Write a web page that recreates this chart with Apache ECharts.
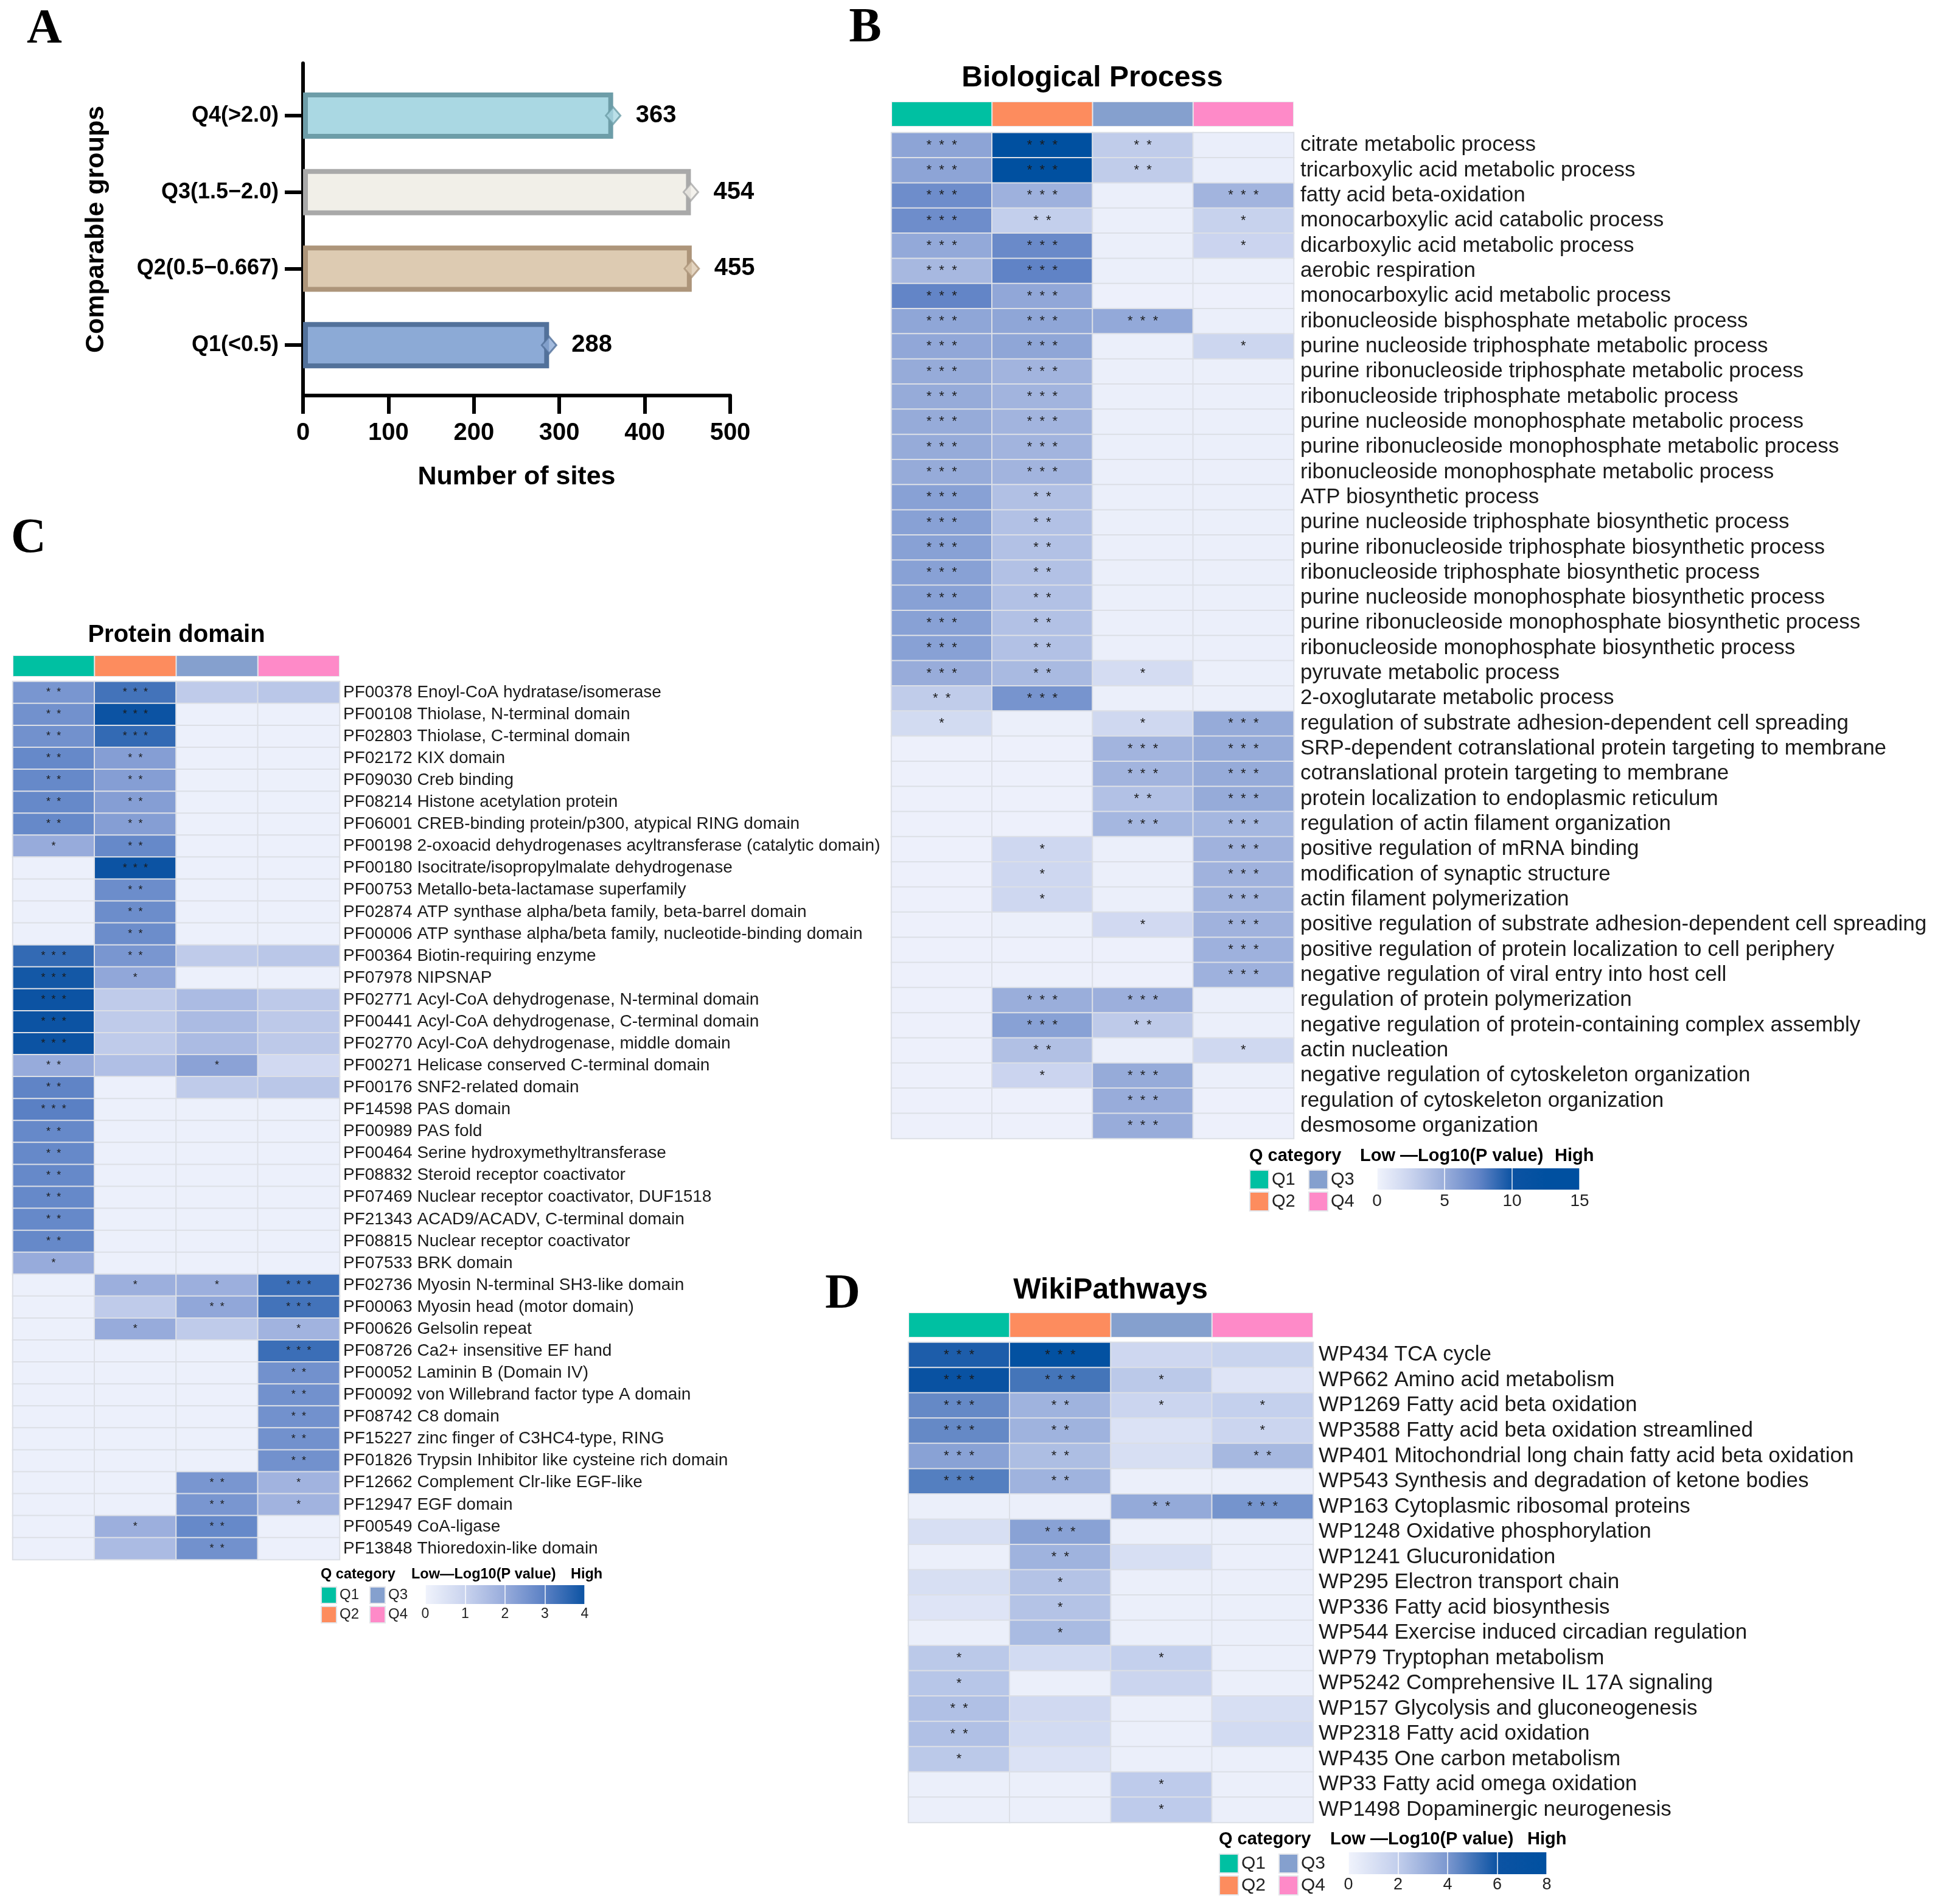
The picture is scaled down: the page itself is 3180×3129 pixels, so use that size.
<!DOCTYPE html>
<html><head><meta charset="utf-8">
<script src="https://cdn.jsdelivr.net/npm/echarts@6/dist/echarts.min.js"></script>
<style>html,body{margin:0;padding:0;background:#fff}#c{width:3180px;height:3129px}</style>
</head><body><div id="c"></div>
<script>
// ---------------- DATA ----------------
const groupLabels = ['Q1(<0.5)', 'Q2(0.5\u22120.667)', 'Q3(1.5\u22122.0)', 'Q4(>2.0)'];
const siteCounts = [288, 455, 454, 363];

const qNames = ['Q1', 'Q2', 'Q3', 'Q4'];

const bpTerms = [
 'citrate metabolic process','tricarboxylic acid metabolic process','fatty acid beta-oxidation',
 'monocarboxylic acid catabolic process','dicarboxylic acid metabolic process','aerobic respiration',
 'monocarboxylic acid metabolic process','ribonucleoside bisphosphate metabolic process',
 'purine nucleoside triphosphate metabolic process','purine ribonucleoside triphosphate metabolic process',
 'ribonucleoside triphosphate metabolic process','purine nucleoside monophosphate metabolic process',
 'purine ribonucleoside monophosphate metabolic process','ribonucleoside monophosphate metabolic process',
 'ATP biosynthetic process','purine nucleoside triphosphate biosynthetic process',
 'purine ribonucleoside triphosphate biosynthetic process','ribonucleoside triphosphate biosynthetic process',
 'purine nucleoside monophosphate biosynthetic process','purine ribonucleoside monophosphate biosynthetic process',
 'ribonucleoside monophosphate biosynthetic process','pyruvate metabolic process','2-oxoglutarate metabolic process',
 'regulation of substrate adhesion-dependent cell spreading','SRP-dependent cotranslational protein targeting to membrane',
 'cotranslational protein targeting to membrane','protein localization to endoplasmic reticulum',
 'regulation of actin filament organization','positive regulation of mRNA binding','modification of synaptic structure',
 'actin filament polymerization','positive regulation of substrate adhesion-dependent cell spreading',
 'positive regulation of protein localization to cell periphery','negative regulation of viral entry into host cell',
 'regulation of protein polymerization','negative regulation of protein-containing complex assembly','actin nucleation',
 'negative regulation of cytoskeleton organization','regulation of cytoskeleton organization','desmosome organization'
];
const bpLogP = [
 [5.6,14.5,3.0,0.4],[5.6,14.5,3.0,0.4],[7.0,4.8,0.3,4.6],[7.0,2.8,0.3,2.6],[5.3,7.2,0.3,2.4],
 [4.3,7.6,0.3,0.3],[7.5,5.4,0.2,0.2],[5.5,5.5,5.3,0.3],[5.4,5.5,0.3,2.3],[5.2,4.6,0.3,0.3],
 [5.2,4.6,0.3,0.3],[5.2,4.6,0.3,0.3],[5.2,4.6,0.3,0.3],[5.2,4.6,0.3,0.3],[5.8,3.8,0.3,0.3],
 [5.8,3.7,0.3,0.3],[5.8,3.7,0.3,0.3],[5.8,3.7,0.3,0.3],[5.8,3.7,0.3,0.3],[5.8,3.7,0.3,0.3],
 [5.8,3.7,0.3,0.3],[5.1,4.2,1.8,0.3],[3.0,6.6,0.3,0.3],[1.9,0.3,2.1,5.2],[0.2,0.2,4.6,5.2],
 [0.2,0.2,4.6,5.2],[0.2,0.2,3.7,5.2],[0.2,0.2,4.4,4.4],[0.2,2.2,0.3,4.7],[0.2,2.2,0.3,4.7],
 [0.2,2.2,0.3,4.6],[0.2,0.3,2.0,4.7],[0.2,0.2,0.2,4.8],[0.2,0.2,0.2,4.8],[0.2,5.0,4.9,0.3],
 [0.2,5.8,3.1,0.3],[0.2,3.8,0.3,2.1],[0.2,2.4,5.2,0.3],[0.2,0.2,5.1,0.2],[0.2,0.2,5.1,0.2]
];
const bpSig = [
 [3,3,2,0],[3,3,2,0],[3,3,0,3],[3,2,0,1],[3,3,0,1],[3,3,0,0],[3,3,0,0],[3,3,3,0],[3,3,0,1],
 [3,3,0,0],[3,3,0,0],[3,3,0,0],[3,3,0,0],[3,3,0,0],
 [3,2,0,0],[3,2,0,0],[3,2,0,0],[3,2,0,0],[3,2,0,0],[3,2,0,0],[3,2,0,0],
 [3,2,1,0],[2,3,0,0],[1,0,1,3],[0,0,3,3],[0,0,3,3],[0,0,2,3],[0,0,3,3],
 [0,1,0,3],[0,1,0,3],[0,1,0,3],[0,0,1,3],[0,0,0,3],[0,0,0,3],
 [0,3,3,0],[0,3,2,0],[0,2,0,1],[0,1,3,0],[0,0,3,0],[0,0,3,0]
];
const bpScaleTicks = [0, 15, 5];

const pdTerms = [
 'PF00378 Enoyl-CoA hydratase/isomerase','PF00108 Thiolase, N-terminal domain','PF02803 Thiolase, C-terminal domain',
 'PF02172 KIX domain','PF09030 Creb binding','PF08214 Histone acetylation protein',
 'PF06001 CREB-binding protein/p300, atypical RING domain','PF00198 2-oxoacid dehydrogenases acyltransferase (catalytic domain)',
 'PF00180 Isocitrate/isopropylmalate dehydrogenase','PF00753 Metallo-beta-lactamase superfamily',
 'PF02874 ATP synthase alpha/beta family, beta-barrel domain','PF00006 ATP synthase alpha/beta family, nucleotide-binding domain',
 'PF00364 Biotin-requiring enzyme','PF07978 NIPSNAP','PF02771 Acyl-CoA dehydrogenase, N-terminal domain',
 'PF00441 Acyl-CoA dehydrogenase, C-terminal domain','PF02770 Acyl-CoA dehydrogenase, middle domain',
 'PF00271 Helicase conserved C-terminal domain','PF00176 SNF2-related domain','PF14598 PAS domain','PF00989 PAS fold',
 'PF00464 Serine hydroxymethyltransferase','PF08832 Steroid receptor coactivator','PF07469 Nuclear receptor coactivator, DUF1518',
 'PF21343 ACAD9/ACADV, C-terminal domain','PF08815 Nuclear receptor coactivator','PF07533 BRK domain',
 'PF02736 Myosin N-terminal SH3-like domain','PF00063 Myosin head (motor domain)','PF00626 Gelsolin repeat',
 'PF08726 Ca2+ insensitive EF hand','PF00052 Laminin B (Domain IV)','PF00092 von Willebrand factor type A domain',
 'PF08742 C8 domain','PF15227 zinc finger of C3HC4-type, RING','PF01826 Trypsin Inhibitor like cysteine rich domain',
 'PF12662 Complement Clr-like EGF-like','PF12947 EGF domain','PF00549 CoA-ligase','PF13848 Thioredoxin-like domain'
];
const pdLogP = [
 [2.5,3.3,1.2,1.3],[2.6,4.0,0.1,0.1],[2.6,3.5,0.1,0.1],[2.8,2.3,0.1,0.1],[2.8,2.3,0.1,0.1],
 [2.8,2.3,0.1,0.1],[2.8,2.3,0.1,0.1],[2.0,2.8,0.1,0.1],[0.1,4.0,0.1,0.1],[0.1,2.7,0.1,0.1],
 [0.1,2.7,0.1,0.1],[0.1,2.7,0.1,0.1],[3.5,2.5,1.2,1.3],[3.9,2.1,0.1,0.1],[4.0,1.2,1.6,1.25],
 [4.0,1.2,1.6,1.25],[4.0,1.2,1.6,1.25],[2.0,1.5,2.2,0.8],[2.9,0.1,1.2,1.3],[3.0,0.1,0.1,0.1],
 [2.8,0.1,0.1,0.1],[2.8,0.1,0.1,0.1],[2.8,0.1,0.1,0.1],[2.8,0.1,0.1,0.1],[2.8,0.1,0.1,0.1],
 [2.8,0.1,0.1,0.1],[2.0,0.1,0.1,0.1],[0.1,1.9,1.9,3.4],[0.1,1.2,2.1,3.3],[0.1,2.0,1.2,1.8],
 [0.1,0.1,0.1,3.4],[0.1,0.1,0.1,2.6],[0.1,0.1,0.1,2.6],[0.1,0.1,0.1,2.6],[0.1,0.1,0.1,2.6],
 [0.1,0.1,0.1,2.6],[0.1,0.1,2.5,1.8],[0.1,0.1,2.5,1.8],[0.1,1.9,2.8,0.1],[0.1,1.6,2.6,0.1]
];
const pdSig = [
 [2,3,0,0],[2,3,0,0],[2,3,0,0],[2,2,0,0],[2,2,0,0],[2,2,0,0],[2,2,0,0],[1,2,0,0],
 [0,3,0,0],[0,2,0,0],[0,2,0,0],[0,2,0,0],[3,2,0,0],[3,1,0,0],
 [3,0,0,0],[3,0,0,0],[3,0,0,0],[2,0,1,0],[2,0,0,0],[3,0,0,0],
 [2,0,0,0],[2,0,0,0],[2,0,0,0],[2,0,0,0],[2,0,0,0],[2,0,0,0],[1,0,0,0],
 [0,1,1,3],[0,0,2,3],[0,1,0,1],[0,0,0,3],
 [0,0,0,2],[0,0,0,2],[0,0,0,2],[0,0,0,2],[0,0,0,2],
 [0,0,2,1],[0,0,2,1],[0,1,2,0],[0,0,2,0]
];
const pdScaleTicks = [0, 4, 1];

const wpTerms = [
 'WP434 TCA cycle','WP662 Amino acid metabolism','WP1269 Fatty acid beta oxidation',
 'WP3588 Fatty acid beta oxidation streamlined','WP401 Mitochondrial long chain fatty acid beta oxidation',
 'WP543 Synthesis and degradation of ketone bodies','WP163 Cytoplasmic ribosomal proteins',
 'WP1248 Oxidative phosphorylation','WP1241 Glucuronidation','WP295 Electron transport chain',
 'WP336 Fatty acid biosynthesis','WP544 Exercise induced circadian regulation','WP79 Tryptophan metabolism',
 'WP5242 Comprehensive IL 17A signaling','WP157 Glycolysis and gluconeogenesis','WP2318 Fatty acid oxidation',
 'WP435 One carbon metabolism','WP33 Fatty acid omega oxidation','WP1498 Dopaminergic neurogenesis'
];
const wpLogP = [
 [5.7,7.5,1.5,1.7],[6.5,5.0,2.2,0.8],[4.4,3.0,1.6,1.9],[4.4,3.0,0.9,1.6],[3.6,2.6,1.1,2.8],
 [4.7,3.0,0.2,0.2],[0.2,0.2,3.3,4.1],[1.1,3.6,0.2,0.2],[0.2,3.0,1.1,0.2],[1.1,2.4,0.2,0.2],
 [0.8,2.4,0.2,0.2],[0.2,2.7,0.2,0.2],[2.2,1.3,1.9,0.2],[2.3,0.2,1.6,0.2],[2.5,1.4,0.2,1.1],
 [2.5,1.3,0.2,1.3],[2.2,0.9,0.2,0.2],[0.2,0.2,2.1,0.2],[0.2,0.2,2.1,0.2]
];
const wpSig = [
 [3,3,0,0],[3,3,1,0],[3,2,1,1],[3,2,0,1],[3,2,0,2],[3,2,0,0],[0,0,2,3],[0,3,0,0],[0,2,0,0],
 [0,1,0,0],[0,1,0,0],[0,1,0,0],[1,0,1,0],[1,0,0,0],[2,0,0,0],[2,0,0,0],[1,0,0,0],[0,0,1,0],[0,0,1,0]
];
const wpScaleTicks = [0, 8, 2];

// ---------------- STYLES ----------------
const FONT = 'Liberation Sans';
function hasFont(f) {
  const ctx = document.createElement('canvas').getContext('2d');
  const s = 'Q2(0.5-0.667) abcdefghij';
  ctx.font = '40px monospace'; const a = ctx.measureText(s).width;
  ctx.font = '40px "' + f + '", monospace'; const b = ctx.measureText(s).width;
  return Math.abs(a - b) > 0.5;
}
const catFont = hasFont('Liberation Sans Narrow') ? { family: 'Liberation Sans Narrow', size: 42 } : { family: FONT, size: 36 };

const barFills = ['#8caad6', '#ddcbb2', '#f1efe8', '#aad8e3'];
const barEdges = ['#52719a', '#ad957a', '#a9a9a9', '#6d9da8'];
const qColors = ['#00c0a2', '#fd8c5e', '#85a0ce', '#fe8ac8'];
const bpColors = ['#f0f3fc','#c9d3ee','#9aaedb','#6385c7','#0c53a3','#0050a0','#0050a0'];
const pdColors = ['#f0f3fc','#c9d3ee','#97abdb','#5a80c4','#0c53a3'];
const wpColors = ['#f0f3fc','#c2ceec','#7b97cf','#0c53a3','#0050a0'];

const chart = echarts.init(document.getElementById('c'));
const grids = [], xAxes = [], yAxes = [], series = [], visualMaps = [], legends = [], graphics = [];

function addGrid(g, x, y) {
  grids.push(Object.assign({ containLabel: false, outerBoundsMode: 'none' }, g));
  const i = grids.length - 1;
  xAxes.push(Object.assign({ gridIndex: i }, x));
  yAxes.push(Object.assign({ gridIndex: i }, y));
  return i;
}
function txt(x, y, text, size, opts) {
  const st = Object.assign({ text, fontSize: size, fontFamily: FONT, fontWeight: 'bold', fill: '#000',
    align: 'left', textAlign: 'left', verticalAlign: 'middle', textVerticalAlign: 'middle' }, opts || {});
  if (st.align === 'center') st.textAlign = 'center';
  graphics.push({ type: 'text', x, y, silent: true, style: st });
}
function stars(n) { return n ? new Array(n).fill('*').join('  ') : ''; }

// ---------------- PANEL A ----------------
const axBlack = { color: '#000', width: 6 };
const gA0 = addGrid({ left: 498, top: 104, width: 702, height: 546 },
  { type: 'value', min: 0, max: 500, interval: 100,
    axisLine: { show: true, onZero: false, lineStyle: axBlack },
    axisTick: { show: true, length: 30, lineStyle: axBlack },
    axisLabel: { fontSize: 40, fontWeight: 'bold', color: '#000', margin: 42, fontFamily: FONT },
    splitLine: { show: false },
    name: 'Number of sites', nameLocation: 'middle', nameGap: 113, nameMoveOverlap: false,
    nameTextStyle: { fontSize: 43, fontWeight: 'bold', color: '#000', fontFamily: FONT } },
  { type: 'value', min: 0, max: 1,
    axisLine: { show: true, onZero: false, lineStyle: axBlack },
    axisTick: { show: false }, axisLabel: { show: false }, splitLine: { show: false },
    name: 'Comparable groups', nameLocation: 'middle', nameRotate: 90, nameGap: 318, nameMoveOverlap: false,
    nameTextStyle: { fontSize: 43, fontWeight: 'bold', color: '#000', fontFamily: FONT } });
const gA1 = addGrid({ left: 498, top: 127, width: 702, height: 503 },
  { type: 'value', min: 0, max: 500, show: false },
  { type: 'category', data: groupLabels,
    axisLine: { show: false },
    axisTick: { show: true, alignWithLabel: true, length: 30, lineStyle: axBlack },
    axisLabel: { fontSize: catFont.size, fontWeight: 'bold', color: '#000', margin: 40, fontFamily: catFont.family, interval: 0 } });
series.push({ type: 'bar', xAxisIndex: gA1, yAxisIndex: gA1, barWidth: 76, silent: true,
  emphasis: { disabled: true },
  data: siteCounts.map((v, i) => ({ value: v, itemStyle: { color: barFills[i], borderColor: barEdges[i], borderWidth: 8 } })),
  label: { show: true, position: 'right', distance: 37, fontSize: 40, fontWeight: 'bold', color: '#000', fontFamily: FONT } });
series.push({ type: 'scatter', xAxisIndex: gA1, yAxisIndex: gA1, symbol: 'diamond', symbolSize: [24, 28], z: 5, silent: true,
  data: siteCounts.map((v, i) => ({ value: [v, i], itemStyle: { color: barFills[i], borderColor: barEdges[i], borderWidth: 3 } })) });
txt(73, 49, 'A', 80, { fontFamily: 'Liberation Serif', align: 'center' });

// ---------------- HEATMAP PANELS ----------------
function addPanel(p) {
  const gh = addGrid(p.header, { type: 'category', data: qNames, show: false }, { type: 'value', min: 0, max: 1, show: false });
  qNames.forEach((q, k) => {
    series.push({ name: q, type: 'bar', xAxisIndex: gh, yAxisIndex: gh, barWidth: '100%', barGap: '-100%', silent: true,
      emphasis: { disabled: true },
      data: qNames.map((_, j) => j === k ? 1 : '-'),
      itemStyle: { color: qColors[k], borderColor: '#e3e5ea', borderWidth: 1 } });
  });
  const gm = addGrid(p.heat, { type: 'category', data: qNames, show: false },
    { type: 'category', data: p.terms, inverse: true, position: 'right',
      axisLine: { show: false }, axisTick: { show: false }, splitLine: { show: false },
      axisLabel: { interval: 0, fontSize: p.labelSize, color: '#1a1a1a', margin: p.labelMargin, fontFamily: FONT } });
  const data = [];
  p.logp.forEach((row, r) => row.forEach((v, c) => data.push([c, r, v])));
  series.push({ type: 'heatmap', xAxisIndex: gm, yAxisIndex: gm, data, silent: true, emphasis: { disabled: true },
    itemStyle: { borderColor: '#dcdfe6', borderWidth: 2 },
    label: { show: true, fontSize: p.starSize, color: '#1a1a1a', fontFamily: FONT,
      formatter: prm => stars(p.sig[prm.value[1]][prm.value[0]]) } });
  visualMaps.push({ type: 'continuous', show: false, seriesIndex: series.length - 1, dimension: 2,
    min: p.ticks[0], max: p.ticks[1], inRange: { color: p.colors } });
  const gs = addGrid(p.scale,
    { type: 'value', min: p.ticks[0], max: p.ticks[1], interval: p.ticks[2], z: 10,
      axisLine: { show: false },
      axisTick: { show: true, inside: true, length: p.scale.height, lineStyle: { color: 'rgba(255,255,255,0.7)', width: 2 } },
      axisLabel: { fontSize: p.tickSize, color: '#222', margin: p.tickMargin, fontFamily: FONT },
      splitLine: { show: false } },
    { type: 'category', data: ['scale'], show: false });
  series.push({ type: 'bar', xAxisIndex: gs, yAxisIndex: gs, barWidth: '100%', silent: true, emphasis: { disabled: true },
    data: [p.ticks[1]],
    itemStyle: { color: new echarts.graphic.LinearGradient(0, 0, 1, 0,
      p.colors.map((c, i, a) => ({ offset: i / (a.length - 1), color: c }))) } });
  [[['Q1', 'Q2'], p.legL], [['Q3', 'Q4'], p.legR]].forEach(([names, pos]) => {
    legends.push({ orient: 'vertical', left: pos[0], top: pos[1], itemWidth: p.sw[0], itemHeight: p.sw[1], itemGap: 3,
      padding: 0, icon: 'rect', selectedMode: false, data: names,
      textStyle: { fontSize: p.legFont, color: '#222', fontFamily: FONT } });
  });
  txt(p.cap[0], p.cap[3], 'Q category', p.capSize);
  txt(p.cap[1], p.cap[3], p.lowText, p.capSize);
  txt(p.cap[2], p.cap[3], 'High', p.capSize);
  txt(p.title[0], p.title[1], p.title[2], p.title[3], { align: 'center' });
  txt(p.letter[0], p.letter[1], p.letter[2], 80, { fontFamily: 'Liberation Serif', align: 'center' });
}

addPanel({ terms: bpTerms, logp: bpLogP, sig: bpSig, ticks: bpScaleTicks, colors: bpColors,
  header: { left: 1465, top: 167, width: 661, height: 41 },
  heat: { left: 1465, top: 218, width: 661, height: 1653 },
  labelSize: 35, labelMargin: 11, starSize: 22,
  scale: { left: 2263, top: 1920, width: 333, height: 35 }, tickSize: 28, tickMargin: 5,
  legL: [2053, 1922], legR: [2150, 1922], sw: [31, 31], legFont: 29,
  cap: [2053, 2235, 2555, 1900], capSize: 29, lowText: 'Low \u2014Log10(P value)',
  title: [1795, 129, 'Biological Process', 48], letter: [1422, 47, 'B'] });

addPanel({ terms: pdTerms, logp: pdLogP, sig: pdSig, ticks: pdScaleTicks, colors: pdColors,
  header: { left: 21, top: 1077, width: 537, height: 35 },
  heat: { left: 21, top: 1120, width: 537, height: 1443 },
  labelSize: 28, labelMargin: 6, starSize: 18,
  scale: { left: 699, top: 2605, width: 262, height: 31 }, tickSize: 23, tickMargin: 5,
  legL: [527, 2607], legR: [607, 2607], sw: [25, 27], legFont: 24,
  cap: [527, 676, 938, 2588], capSize: 23.5, lowText: 'Low\u2014Log10(P value)',
  title: [290, 1044, 'Protein domain', 40], letter: [47, 886, 'C'] });

addPanel({ terms: wpTerms, logp: wpLogP, sig: wpSig, ticks: wpScaleTicks, colors: wpColors,
  header: { left: 1493, top: 2157, width: 665, height: 41 },
  heat: { left: 1493, top: 2206, width: 665, height: 789 },
  labelSize: 35, labelMargin: 9, starSize: 22,
  scale: { left: 2216, top: 3044, width: 326, height: 36 }, tickSize: 27, tickMargin: 4,
  legL: [2003, 3046], legR: [2101, 3046], sw: [31, 31], legFont: 30,
  cap: [2003, 2186, 2510, 3023], capSize: 29, lowText: 'Low \u2014Log10(P value)',
  title: [1825, 2121, 'WikiPathways', 48], letter: [1385, 2128, 'D'] });

chart.setOption({
  animation: false,
  backgroundColor: '#fff',
  textStyle: { fontFamily: FONT },
  grid: grids, xAxis: xAxes, yAxis: yAxes, series,
  visualMap: visualMaps, legend: legends,
  graphic: { elements: graphics }
});
</script></body></html>
